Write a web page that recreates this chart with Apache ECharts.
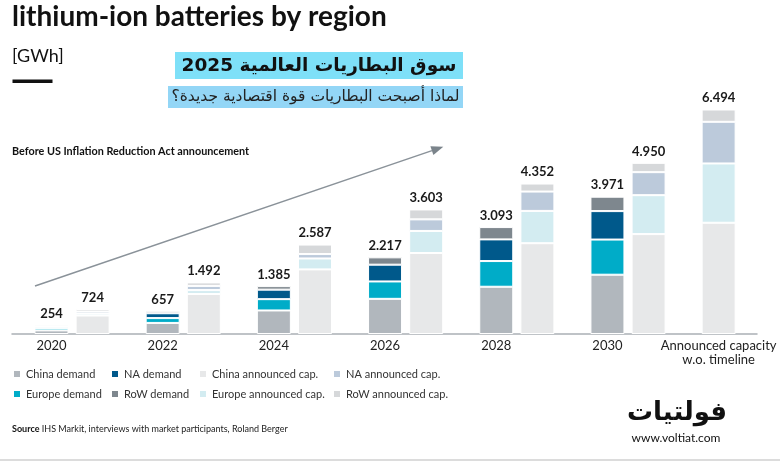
<!DOCTYPE html>
<html>
<head>
<meta charset="utf-8">
<script src="https://cdn.jsdelivr.net/npm/echarts@6/dist/echarts.min.js"></script>
<style>
html, body { margin: 0; padding: 0; background: #fff; }
#chart { width: 780px; height: 470px; }
</style>
</head>
<body>
<div id="chart"></div>
<script>
// data (GWh)
var years = [2020, 2022, 2024, 2026, 2028, 2030];
var announcedLabel = 'Announced capacity\nw.o. timeline';

var chinaDemand  = [105, 320, 681, 1017, 1367, 1715];
var europeDemand = [70, 140, 327, 503, 743, 1017];
var naDemand     = [45, 140, 275, 485, 627, 823];
var rowDemand    = [34, 57, 102, 212, 356, 416];

// last value = announced capacity w.o. timeline
var chinaCap  = [535, 1158, 1869, 2342, 2626, 2889, 3218];
var europeCap = [55, 112, 316, 639, 935, 1127, 1715];
var naCap     = [60, 122, 127, 335, 559, 665, 1205];
var rowCap    = [74, 100, 275, 287, 232, 269, 356];

// layout
var capOffset = 0.74;   // capacity bar sits right of the demand bar
var announcedX = 2032;
var xMin = 2019.29, xMax = 2032.69;
var capX = years.map(function (y) { return y + capOffset; }).concat([announcedX]);

var font = 'Lato';
var arFont = 'DejaVu Sans';

// value first, so the stack runs on the value, not on the x position
function pairs(xs, vals) {
    return vals.map(function (v, i) { return [v, xs[i]]; });
}
function total(arrs, i) {
    var s = 0;
    arrs.forEach(function (a) { s += a[i]; });
    return s;
}
function fmt(n) {
    return String(n).replace(/\B(?=(\d{3})+(?!\d))/g, '.');
}

var demandArrs = [chinaDemand, europeDemand, naDemand, rowDemand];
var capArrs = [chinaCap, europeCap, naCap, rowCap];

var topLabel = function (arrs) {
    return {
        show: true,
        position: 'top',
        distance: 5,
        fontFamily: font,
        fontSize: 13,
        fontWeight: 'bold',
        color: '#1a1a1a',
        formatter: function (p) { return fmt(total(arrs, p.dataIndex)); }
    };
};

function bar(name, color, xIdx, stack, data, label) {
    var s = {
        name: name,
        type: 'bar',
        xAxisIndex: xIdx,
        stack: stack,
        barWidth: 34,
        encode: { x: 1, y: 0 },
        itemStyle: { color: color, borderColor: '#fff', borderWidth: 1 },
        emphasis: { disabled: true },
        data: data
    };
    if (label) s.label = label;
    return s;
}

var legendCommon = {
    orient: 'vertical',
    top: 368,
    padding: 0,
    itemWidth: 8,
    itemHeight: 8,
    itemGap: 8,
    icon: 'rect',
    selectedMode: false,
    textStyle: { fontFamily: font, fontSize: 11, color: '#333', lineHeight: 12 }
};

var options = {
    animation: false,
    backgroundColor: '#fff',
    grid: { left: 12, right: 23, top: 92, bottom: 136 },
    xAxis: [
        {
            type: 'value',
            min: xMin,
            max: xMax,
            splitLine: { show: false },
            axisTick: { show: false },
            axisLine: { show: true, lineStyle: { color: '#aab0b5', width: 1.5 } },
            axisLabel: {
                customValues: years.concat([announcedX]),
                margin: 5,
                fontFamily: font,
                fontSize: 13,
                color: '#222',
                lineHeight: 14,
                formatter: function (v) { return v === announcedX ? announcedLabel : String(v); }
            }
        },
        { type: 'value', min: xMin, max: xMax, show: false }
    ],
    yAxis: { type: 'value', min: 0, max: 7000, show: false },
    legend: [
        Object.assign({ left: 12, data: ['China demand', 'Europe demand'] }, legendCommon),
        Object.assign({ left: 110, data: ['NA demand', 'RoW demand'] }, legendCommon),
        Object.assign({ left: 198, data: ['China announced cap.', 'Europe announced cap.'] }, legendCommon),
        Object.assign({ left: 332, data: ['NA announced cap.', 'RoW announced cap.'] }, legendCommon)
    ],
    series: [
        bar('China demand', '#b1b7bd', 0, 'demand', pairs(years, chinaDemand)),
        bar('Europe demand', '#00acc8', 0, 'demand', pairs(years, europeDemand)),
        bar('NA demand', '#00598b', 0, 'demand', pairs(years, naDemand)),
        bar('RoW demand', '#7e878e', 0, 'demand', pairs(years, rowDemand), topLabel(demandArrs)),
        bar('China announced cap.', '#e7e8e9', 1, 'cap', pairs(capX, chinaCap)),
        bar('Europe announced cap.', '#d3ecf1', 1, 'cap', pairs(capX, europeCap)),
        bar('NA announced cap.', '#bccadb', 1, 'cap', pairs(capX, naCap)),
        bar('RoW announced cap.', '#d6d8da', 1, 'cap', pairs(capX, rowCap), topLabel(capArrs))
    ],
    graphic: [
        { type: 'text', left: 12, top: 3, style: { text: 'lithium-ion batteries by region', fontFamily: font, fontSize: 28, fontWeight: 'bold', fill: '#111' } },
        { type: 'text', left: 12, top: 47, style: { text: '[GWh]', fontFamily: font, fontSize: 18, fill: '#111' } },
        { type: 'rect', shape: { x: 12.5, y: 79.5, width: 40, height: 3.5 }, style: { fill: '#111' } },
        { type: 'rect', shape: { x: 175, y: 52, width: 288, height: 27 }, style: { fill: '#7ee0f8' } },
        { type: 'text', x: 319, y: 66, style: { text: '\u202Bسوق البطاريات العالمية 2025\u202C', fontFamily: arFont, fontSize: 18.5, fontWeight: 'bold', fill: '#111', align: 'center', verticalAlign: 'middle' } },
        { type: 'rect', shape: { x: 168, y: 86, width: 295, height: 22 }, style: { fill: '#93d6f6' } },
        { type: 'text', x: 315.5, y: 97, style: { text: '\u202Bلماذا أصبحت البطاريات قوة اقتصادية جديدة؟\u202C', fontFamily: arFont, fontSize: 15.5, fill: '#222', align: 'center', verticalAlign: 'middle' } },
        { type: 'text', left: 12, top: 146, style: { text: 'Before US Inflation Reduction Act announcement', fontFamily: font, fontSize: 10.8, fontWeight: 'bold', fill: '#111' } },
        // trend arrow
        { type: 'line', shape: { x1: 35, y1: 286, x2: 432, y2: 150.6 }, style: { stroke: '#8a9299', lineWidth: 1.5 } },
        { type: 'polygon', shape: { points: [[443.3, 146.7], [433.4, 154.9], [430.4, 146.3]] }, style: { fill: '#7b848b' } },
        {
            type: 'text', left: 12, top: 425,
            style: {
                text: '{b|Source} IHS Markit, interviews with market participants, Roland Berger',
                fontFamily: font, fontSize: 9, fill: '#222',
                rich: { b: { fontFamily: font, fontSize: 9, fontWeight: 'bold', fill: '#111' } }
            }
        },
        { type: 'text', x: 677, y: 413, style: { text: 'فولتيات', fontFamily: arFont, fontSize: 26, fontWeight: 'bold', fill: '#111', align: 'center', verticalAlign: 'middle' } },
        { type: 'text', x: 676, y: 438, style: { text: 'www.voltiat.com', fontFamily: font, fontSize: 12, fill: '#111', align: 'center', verticalAlign: 'middle' } },
        { type: 'rect', shape: { x: 0, y: 459, width: 780, height: 2 }, style: { fill: '#dcdcdc' } }
    ]
};

var myChart = echarts.init(document.getElementById('chart'), null, { renderer: 'canvas' });
myChart.setOption(options);
</script>
</body>
</html>
